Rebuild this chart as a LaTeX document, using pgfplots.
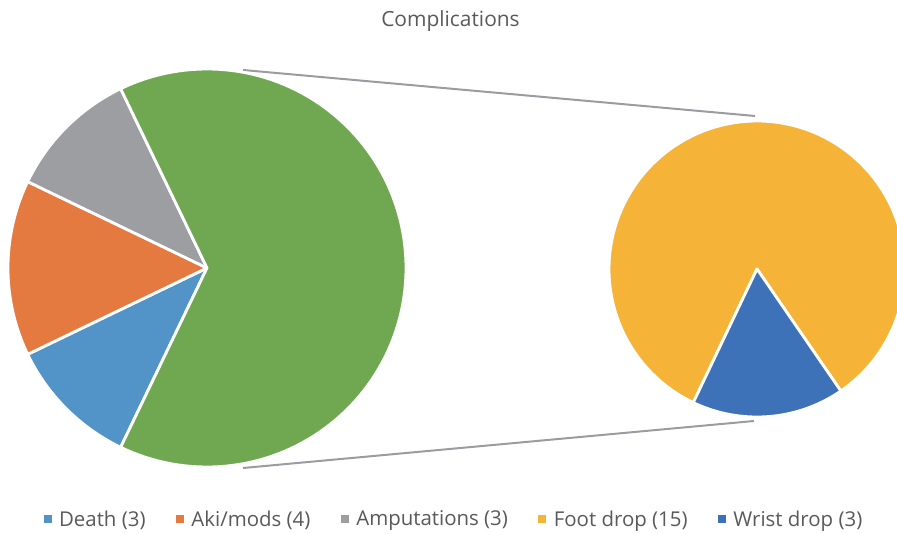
\documentclass[border=0pt]{standalone}
\usepackage{pgfplots}
\pgfplotsset{compat=1.18}
\usepackage{fontspec}
\setmainfont{Open Sans}

\definecolor{cDeath}{HTML}{5394C8}
\definecolor{cAki}{HTML}{E57A41}
\definecolor{cAmp}{HTML}{9D9EA1}
\definecolor{cOther}{HTML}{70A852}
\definecolor{cFoot}{HTML}{F5B337}
\definecolor{cWrist}{HTML}{3E72B8}
\definecolor{txt}{HTML}{595959}
\definecolor{conn}{HTML}{9C9CA0}

% counts per complication
\def\nDeath{3}
\def\nAki{4}
\def\nAmp{3}
\def\nFoot{15}
\def\nWrist{3}

\begin{document}
\begin{tikzpicture}
\pgfmathsetmacro\nOther{\nFoot+\nWrist}
\pgfmathsetmacro\nTotal{\nDeath+\nAki+\nAmp+\nOther}
% main pie: the grouped slice is centred on 0 deg, the rest follow counter-clockwise
\pgfmathsetmacro\aA{180*\nOther/\nTotal}
\pgfmathsetmacro\aB{\aA+360*\nAmp/\nTotal}
\pgfmathsetmacro\aC{\aB+360*\nAki/\nTotal}
\pgfmathsetmacro\aD{\aC+360*\nDeath/\nTotal}
% secondary pie
\pgfmathsetmacro\bA{244.5}
\pgfmathsetmacro\bB{\bA+360*\nWrist/\nOther}
\pgfmathsetmacro\bC{\bA+360}
\useasboundingbox (0,0) rectangle (897bp,534bp);
\begin{axis}[
  at={(0,0)}, anchor=south west,
  scale only axis, width=897bp, height=534bp,
  xmin=0, xmax=897, ymin=0, ymax=534,
  hide axis, clip=true,
  legend columns=5,
  legend image code/.code={\fill[#1,draw=none] (0bp,-4bp) rectangle (8bp,4bp); \path (12bp,0);},
  legend style={at={(axis cs:454,15)}, anchor=center, draw=none, fill=none,
    font=\fontsize{20.5}{24}\selectfont, text=txt,
    /tikz/every even column/.append style={column sep=28.5bp}},
  slice/.style={draw=white, line width=2.8bp, line join=round, samples=120, variable=\t},
]
% connector lines
\addplot[forget plot, conn, line width=2bp] coordinates {(243,464) (755,418)};
\addplot[forget plot, conn, line width=2bp] coordinates {(243,66) (754,113)};
% main pie, centre (207,266), radius 199
\addplot[slice, fill=cDeath, domain=\aC:\aD] ({207+199*cos(t)},{266+199*sin(t)}) -- (axis cs:207,266) -- cycle;
\addplot[slice, fill=cAki, domain=\aB:\aC] ({207+199*cos(t)},{266+199*sin(t)}) -- (axis cs:207,266) -- cycle;
\addplot[slice, fill=cAmp, domain=\aA:\aB] ({207+199*cos(t)},{266+199*sin(t)}) -- (axis cs:207,266) -- cycle;
\addplot[slice, fill=cOther, forget plot, domain=-\aA:\aA] ({207+199*cos(t)},{266+199*sin(t)}) -- (axis cs:207,266) -- cycle;
% secondary pie, centre (757,265), radius 148
\addplot[slice, fill=cFoot, domain=\bB:\bC] ({757+148*cos(t)},{265+148*sin(t)}) -- (axis cs:757,265) -- cycle;
\addplot[slice, fill=cWrist, domain=\bA:\bB] ({757+148*cos(t)},{265+148*sin(t)}) -- (axis cs:757,265) -- cycle;
\legend{Death (3), Aki/mods (4), Amputations (3), Foot drop (15), Wrist drop (3)}
\node[anchor=base, font=\fontsize{21}{24}\selectfont, text=txt] at (axis cs:450.5,507) {Complications};
\end{axis}
\end{tikzpicture}
\end{document}
